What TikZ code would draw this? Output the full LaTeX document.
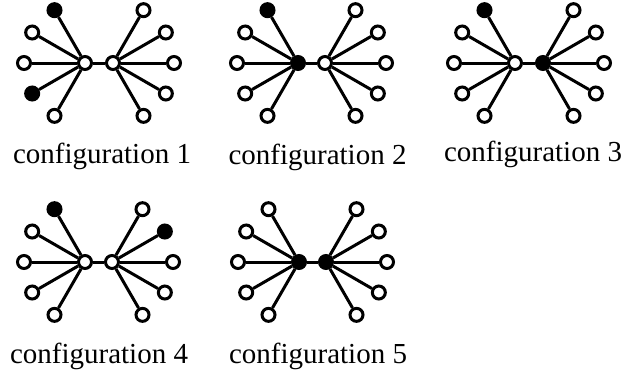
\documentclass[tikz,border=0pt]{standalone}
\usepackage{fontspec}
\setmainfont{Liberation Serif}

\begin{document}
\begin{tikzpicture}[x=1pt, y=1pt,
    dot/.style={circle, draw, fill=white, line width=3pt, inner sep=0pt, minimum size=13pt},
    edge/.style={line width=3pt},
    caption/.style={anchor=base, inner sep=0pt, font=\fontsize{29}{31}\selectfont}]
    \useasboundingbox (0,0) rectangle (623,-376);

    %Configuration 1
    \begin{scope}[shift={(85,-63)}]
        \node[dot] (c1L) at (0,0) {};
        \node[dot] (c1R) at (28,0) {};
        \draw[edge] (c1L) -- (c1R);
        \foreach \a/\f in {120/black,150/white,180/white,210/black,240/white}{
            \node[dot, fill=\f] (c1L\a) at (\a:61) {};
            \draw[edge] (c1L) -- (c1L\a);
        }
        \foreach \a/\f in {60/white,30/white,0/white,-30/white,-60/white}{
            \node[dot, fill=\f] (c1R\a) at ([shift={(\a:61)}]28,0) {};
            \draw[edge] (c1R) -- (c1R\a);
        }
    \end{scope}
    \node[caption] (t1) at (102,-163) {configuration 1};

    %Configuration 2
    \begin{scope}[shift={(298,-63)}]
        \node[dot, fill=black] (c2L) at (0,0) {};
        \node[dot] (c2R) at (27,0) {};
        \draw[edge] (c2L) -- (c2R);
        \foreach \a/\f in {120/black,150/white,180/white,210/white,240/white}{
            \node[dot, fill=\f] (c2L\a) at (\a:61) {};
            \draw[edge] (c2L) -- (c2L\a);
        }
        \foreach \a/\f in {60/white,30/white,0/white,-30/white,-60/white}{
            \node[dot, fill=\f] (c2R\a) at ([shift={(\a:61)}]27,0) {};
            \draw[edge] (c2R) -- (c2R\a);
        }
    \end{scope}
    \node[caption] (t2) at (317.5,-164) {configuration 2};

    %Configuration 3
    \begin{scope}[shift={(515,-63)}]
        \node[dot] (c3L) at (0,0) {};
        \node[dot, fill=black] (c3R) at (28,0) {};
        \draw[edge] (c3L) -- (c3R);
        \foreach \a/\f in {120/black,150/white,180/white,210/white,240/white}{
            \node[dot, fill=\f] (c3L\a) at (\a:61) {};
            \draw[edge] (c3L) -- (c3L\a);
        }
        \foreach \a/\f in {60/white,30/white,0/white,-30/white,-60/white}{
            \node[dot, fill=\f] (c3R\a) at ([shift={(\a:61)}]28,0) {};
            \draw[edge] (c3R) -- (c3R\a);
        }
    \end{scope}
    \node[caption] (t3) at (533,-161) {configuration 3};

    %Configuration 4
    \begin{scope}[shift={(85,-262)}]
        \node[dot] (c4L) at (0,0) {};
        \node[dot] (c4R) at (27,0) {};
        \draw[edge] (c4L) -- (c4R);
        \foreach \a/\f in {120/black,150/white,180/white,210/white,240/white}{
            \node[dot, fill=\f] (c4L\a) at (\a:61) {};
            \draw[edge] (c4L) -- (c4L\a);
        }
        \foreach \a/\f in {60/white,30/black,0/white,-30/white,-60/white}{
            \node[dot, fill=\f] (c4R\a) at ([shift={(\a:61)}]27,0) {};
            \draw[edge] (c4R) -- (c4R\a);
        }
    \end{scope}
    \node[caption] (t4) at (99,-363) {configuration 4};

    %Configuration 5
    \begin{scope}[shift={(299,-262)}]
        \node[dot, fill=black] (c5L) at (0,0) {};
        \node[dot, fill=black] (c5R) at (27,0) {};
        \draw[edge] (c5L) -- (c5R);
        \foreach \a/\f in {120/white,150/white,180/white,210/white,240/white}{
            \node[dot, fill=\f] (c5L\a) at (\a:61) {};
            \draw[edge] (c5L) -- (c5L\a);
        }
        \foreach \a/\f in {60/white,30/white,0/white,-30/white,-60/white}{
            \node[dot, fill=\f] (c5R\a) at ([shift={(\a:61)}]27,0) {};
            \draw[edge] (c5R) -- (c5R\a);
        }
    \end{scope}
    \node[caption] (t5) at (318,-363) {configuration 5};

\end{tikzpicture}
\end{document}
